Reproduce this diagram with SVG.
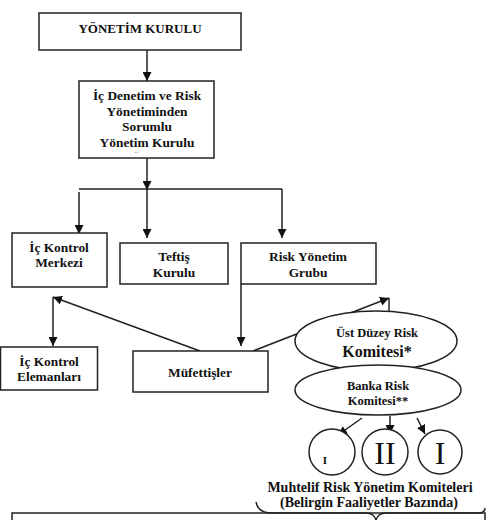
<svg xmlns="http://www.w3.org/2000/svg" width="489" height="520" viewBox="0 0 489 520">
<style>
.box{fill:#fff;stroke:#222;stroke-width:1.5}
.t{font-family:"Liberation Serif","Times New Roman",serif;font-weight:bold;font-size:13.4px;fill:#111;text-anchor:middle}
.e{font-size:12.5px}
.ln{fill:none;stroke:#222;stroke-width:1.5}
.arr{fill:none;stroke:#222;stroke-width:1.5;marker-end:url(#ah)}
</style>
<defs>
<marker id="ah" viewBox="0 0 10 10" refX="10" refY="5" markerWidth="9" markerHeight="9" markerUnits="userSpaceOnUse" orient="auto">
<path d="M0,0 L10,5 L0,10 z" fill="#111"/>
</marker>
<clipPath id="c2"><rect x="80" y="82" width="133" height="71"/></clipPath>
</defs>
<rect width="489" height="520" fill="#fff"/>
<g id="connectors">
<line class="arr" x1="147" y1="50" x2="147" y2="81"/>
<line class="arr" x1="147" y1="158" x2="147" y2="190"/>
<line class="ln" x1="79" y1="189" x2="282" y2="189"/>
<line class="arr" x1="79" y1="192" x2="79" y2="234"/>
<line class="arr" x1="147" y1="189" x2="147" y2="238"/>
<line class="arr" x1="282" y1="189" x2="282" y2="238"/>
<line class="arr" x1="241" y1="284" x2="241" y2="346"/>
<line class="arr" x1="200" y1="351" x2="53" y2="297"/>
<line class="arr" x1="53" y1="297" x2="53" y2="346"/>
<line class="arr" x1="253" y1="351" x2="389" y2="298"/>
<line class="ln" x1="389" y1="298" x2="389" y2="312"/>
<line class="arr" x1="362" y1="418" x2="338" y2="435"/>
<line class="arr" x1="390" y1="416" x2="390" y2="434"/>
<line class="arr" x1="417" y1="418" x2="425" y2="434"/>
</g>
<g id="yonetim-kurulu">
<rect class="box" x="39" y="13" width="202" height="37"/>
<text class="t" x="140" y="33" style="font-size:13px">YÖNETİM KURULU</text>
</g>
<g id="ic-denetim">
<rect class="box" x="79" y="81" width="135" height="77"/>
<text class="t" x="147" y="100">İç Denetim ve Risk</text>
<text class="t" x="147" y="115.5">Yönetiminden</text>
<text class="t" x="147" y="131">Sorumlu</text>
<text class="t" x="147" y="146.5">Yönetim Kurulu</text>
<text class="t" x="147" y="163" clip-path="url(#c2)">Üyesi</text>
</g>
<g id="ic-kontrol-merkezi">
<rect class="box" x="12" y="233" width="95" height="54"/>
<text class="t" x="59" y="252">İç Kontrol</text>
<text class="t" x="59" y="267">Merkezi</text>
</g>
<g id="teftis-kurulu">
<rect class="box" x="120" y="243" width="108" height="41"/>
<text class="t" x="174" y="261">Teftiş</text>
<text class="t" x="174" y="277">Kurulu</text>
</g>
<g id="risk-yonetim-grubu">
<rect class="box" x="241" y="243" width="135" height="41"/>
<text class="t" x="308" y="261">Risk Yönetim</text>
<text class="t" x="308" y="277">Grubu</text>
</g>
<g id="ic-kontrol-elemanlari">
<rect class="box" x="0.5" y="347" width="97" height="43"/>
<text class="t" x="49" y="366">İç Kontrol</text>
<text class="t" x="49" y="381">Elemanları</text>
</g>
<g id="mufettisler">
<rect class="box" x="133" y="351" width="135" height="41"/>
<text class="t" x="200" y="377">Müfettişler</text>
</g>
<g id="ust-duzey-risk-komitesi">
<ellipse class="box" cx="376" cy="341" rx="81" ry="30"/>
<text class="t e" x="377" y="337">Üst Düzey Risk</text>
<text class="t" x="377" y="357" style="font-size:16px">Komitesi*</text>
</g>
<g id="banka-risk-komitesi">
<ellipse class="box" cx="378" cy="390" rx="83" ry="25"/>
<text class="t e" x="378" y="390">Banka Risk</text>
<text class="t e" x="378" y="405">Komitesi**</text>
</g>
<g id="komite-1">
<circle class="box" cx="332" cy="452" r="23"/>
<text class="t" x="325" y="464" style="font-size:11px">I</text>
</g>
<g id="komite-2">
<circle class="box" cx="385" cy="452" r="23"/>
<text class="t" x="385" y="464" style="font-weight:normal;font-size:32px">II</text>
</g>
<g id="komite-3">
<circle class="box" cx="440" cy="452" r="22"/>
<text class="t" x="440" y="464" style="font-weight:normal;font-size:32px">I</text>
</g>
<g id="muhtelif">
<text class="t" x="370" y="492" style="font-size:14px">Muhtelif Risk Yönetim Komiteleri</text>
<text class="t" x="369" y="507" style="font-size:14px">(Belirgin Faaliyetler Bazında)</text>
<path class="ln" d="M256,502 Q258,513 272,513 L366,513 Q374,513 376,520 Q378,513 386,513 L478,513 Q485,513 485,508"/>
<path class="ln" d="M12,521 L12,513 L485,513 L485,521"/>
</g>
</svg>
